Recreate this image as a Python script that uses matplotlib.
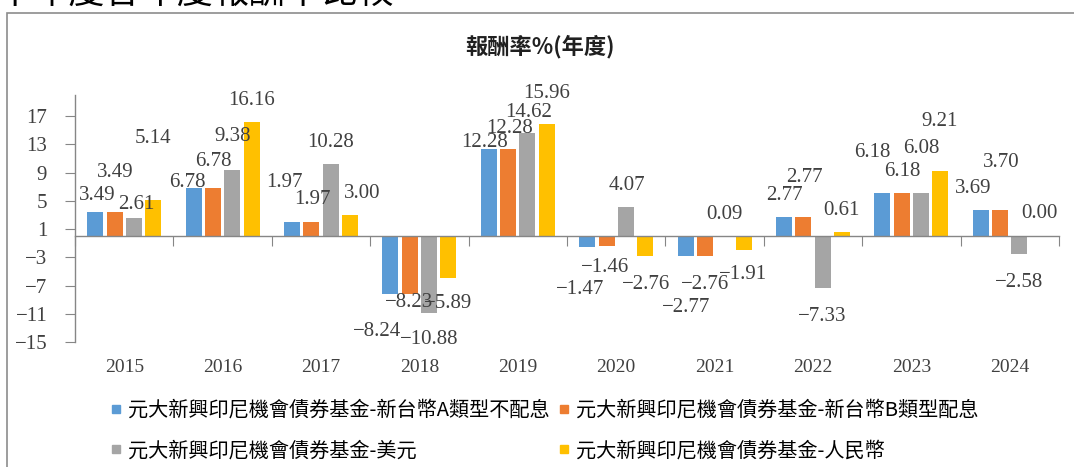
import numpy as np
import matplotlib.pyplot as plt
from matplotlib.lines import Line2D
from matplotlib.patches import Rectangle

# 年度報酬率 (%)
years = ['2015', '2016', '2017', '2018', '2019', '2020', '2021', '2022', '2023', '2024']
twd_a = [3.49, 6.78, 1.97, -8.24, 12.28, -1.47, -2.77, 2.77, 6.18, 3.69]
twd_b = [3.49, 6.78, 1.97, -8.23, 12.28, -1.46, -2.76, 2.77, 6.18, 3.70]
usd = [2.61, 9.38, 10.28, -10.88, 14.62, 4.07, 0.09, -7.33, 6.08, -2.58]
rmb = [5.14, 16.16, 3.00, -5.89, 15.96, -2.76, -1.91, 0.61, 9.21, 0.00]
names = ['元大新興印尼機會債券基金-新台幣A類型不配息',
         '元大新興印尼機會債券基金-新台幣B類型配息',
         '元大新興印尼機會債券基金-美元',
         '元大新興印尼機會債券基金-人民幣']
colors = ['#5B9BD5', '#ED7D31', '#A5A5A5', '#FFC000']

# label offsets (pixels) like the excel chart, one row per series
lab_dx = [[2, -6, -8, -13, -4, -7, 0, 0, -10, -8],
          [1, 0, 1, -1, 1, -1, 0, 1, 1, 1],
          [2, 0, 0, 0, 1, 1, 0, 0, 0, 0],
          [0, 0, 12, 0, 0, 1, 0, 0, -1, 1]]
lab_up = [[19, 8, 42, -35, 9, -40, -49, 24, 43, 24],
          [42, 29, 25, -6, 23, -19, -26, 42, 24, 50],
          [16, 36, 24, -24, 23, 24, 24, -26, 47, -26],
          [64, 24, 24, -23, 33, -26, -22, 24, 52, 25]]

plt.rcParams['font.family'] = ['Liberation Serif', 'Noto Sans CJK TC']
plt.rcParams['axes.unicode_minus'] = True

W, H = 1074, 467
fig = plt.figure(figsize=(W / 100, H / 100), dpi=100)
ax = fig.add_axes([75 / W, (H - 342) / H, (1059 - 75) / W, (342 - 95) / H])

x = np.arange(len(years))
bw = 0.163
step = 0.196
series = [twd_a, twd_b, usd, rmb]
for j, vals in enumerate(series):
    xs = x + (j - 1.5) * step
    ax.bar(xs, vals, bw, color=colors[j], zorder=2)
    for k, v in enumerate(vals):
        txt = ('%.2f' % v).replace('-', '\u2212')
        ax.annotate(txt, (xs[k], v), xytext=(lab_dx[j][k], lab_up[j][k] - 7),
                    textcoords='offset pixels', ha='center', va='baseline',
                    fontsize=15, color='#404040', zorder=5)

for i, yr in enumerate(years):
    ax.annotate(yr, (i, -15), xytext=(0, -25), textcoords='offset pixels',
                ha='center', va='center', fontsize=14, color='#404040')

ax.set_xlim(-0.5, 9.5)
ax.set_ylim(-15, 20)
ax.set_yticks(np.arange(-15, 18, 4))
ax.set_xticks(np.arange(-0.5, 10, 1))
ax.set_xticklabels([])
ax.spines['bottom'].set_position(('data', 0))
ax.spines['top'].set_visible(False)
ax.spines['right'].set_visible(False)
for s in ['left', 'bottom']:
    ax.spines[s].set_color('#868686')
    ax.spines[s].set_linewidth(1)
ax.tick_params(axis='x', direction='out', length=7, color='#868686')
ax.tick_params(axis='y', direction='out', length=7, color='#868686',
               pad=13, labelsize=15, labelcolor='#404040')

# legend, filled row by row (A | B, USD | RMB)
order = [0, 2, 1, 3]
handles = [Line2D([], [], marker='s', linestyle='none', color=colors[i], markersize=6) for i in order]
fig.legend(handles, [names[i] for i in order], loc='upper left',
           bbox_to_anchor=(110 / W, 1 - 400 / H),
           ncol=2, frameon=False, handlelength=0.6, handletextpad=0.3,
           columnspacing=0.4, labelspacing=0.95, borderpad=0, borderaxespad=0,
           prop={'family': 'Noto Sans CJK TC', 'size': 14.5})

fig.text(540 / W, 1 - 47 / H, '報酬率%(年度)', ha='center', va='center',
         fontsize=16, fontweight='bold', family='Noto Sans CJK TC', color='#202020')

# cut-off heading above the chart
fig.text(-4 / W, 1 - 3 / H, '十年度各年度報酬率比較', ha='left', va='baseline',
         fontsize=26, family='Noto Sans CJK TC', color='black')

fig.patches.append(Rectangle((7 / W, -0.1), 2, (H - 13) / H + 0.1, transform=fig.transFigure,
                             fill=False, ec='#8c8c8c', lw=1.2))

fig.savefig('out.png', dpi=100)
